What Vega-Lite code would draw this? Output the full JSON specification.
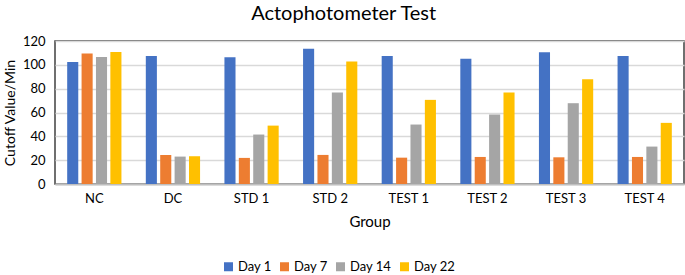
{
  "$schema": "https://vega.github.io/schema/vega-lite/v6.json",
  "autosize": "none",
  "width": 629,
  "height": 143,
  "padding": {"left": 55, "top": 41, "right": 1, "bottom": 91},
  "background": "white",
  "title": {"text": "Actophotometer Test", "frame": "bounds", "anchor": "middle", "fontSize": 20, "fontWeight": "normal", "font": "Lato", "color": "#000000", "offset": 11},
  "config": {
    "font": "Lato",
    "view": {"stroke": "#404040", "strokeWidth": 1.5},
    "axis": {"labelFont": "Lato", "titleFont": "Lato", "labelColor": "#000", "titleColor": "#000", "titleFontWeight": "normal"}
  },
  "data": {"values": [
    {"group": "NC", "day": "Day 1", "value": 102.3},
    {"group": "NC", "day": "Day 7", "value": 109.6},
    {"group": "NC", "day": "Day 14", "value": 106.5},
    {"group": "NC", "day": "Day 22", "value": 110.7},
    {"group": "DC", "day": "Day 1", "value": 107.4},
    {"group": "DC", "day": "Day 7", "value": 24.4},
    {"group": "DC", "day": "Day 14", "value": 23.0},
    {"group": "DC", "day": "Day 22", "value": 23.3},
    {"group": "STD 1", "day": "Day 1", "value": 106.3},
    {"group": "STD 1", "day": "Day 7", "value": 21.9},
    {"group": "STD 1", "day": "Day 14", "value": 41.5},
    {"group": "STD 1", "day": "Day 22", "value": 49.0},
    {"group": "STD 2", "day": "Day 1", "value": 113.5},
    {"group": "STD 2", "day": "Day 7", "value": 24.4},
    {"group": "STD 2", "day": "Day 14", "value": 76.8},
    {"group": "STD 2", "day": "Day 22", "value": 102.9},
    {"group": "TEST 1", "day": "Day 1", "value": 107.4},
    {"group": "TEST 1", "day": "Day 7", "value": 22.1},
    {"group": "TEST 1", "day": "Day 14", "value": 49.9},
    {"group": "TEST 1", "day": "Day 22", "value": 70.6},
    {"group": "TEST 2", "day": "Day 1", "value": 105.1},
    {"group": "TEST 2", "day": "Day 7", "value": 22.7},
    {"group": "TEST 2", "day": "Day 14", "value": 58.3},
    {"group": "TEST 2", "day": "Day 22", "value": 76.8},
    {"group": "TEST 3", "day": "Day 1", "value": 110.5},
    {"group": "TEST 3", "day": "Day 7", "value": 22.4},
    {"group": "TEST 3", "day": "Day 14", "value": 67.8},
    {"group": "TEST 3", "day": "Day 22", "value": 88.0},
    {"group": "TEST 4", "day": "Day 1", "value": 107.4},
    {"group": "TEST 4", "day": "Day 7", "value": 22.7},
    {"group": "TEST 4", "day": "Day 14", "value": 31.4},
    {"group": "TEST 4", "day": "Day 22", "value": 51.3}
  ]},
  "mark": {"type": "bar"},
  "encoding": {
    "x": {
      "field": "group", "type": "nominal", "sort": null,
      "scale": {"paddingInner": 0.31, "paddingOuter": 0.155},
      "axis": {"title": "Group", "labelAngle": 0, "labelFontSize": 13, "titleFontSize": 15, "ticks": false, "domainColor": "#BFBFBF", "domainWidth": 2, "labelPadding": 8, "titlePadding": 9}
    },
    "xOffset": {
      "field": "day", "type": "nominal", "sort": ["Day 1", "Day 7", "Day 14", "Day 22"],
      "scale": {"paddingInner": 0.23, "paddingOuter": 0}
    },
    "y": {
      "field": "value", "type": "quantitative",
      "scale": {"domain": [0, 120]},
      "axis": {"title": "Cutoff Value/Min", "values": [0, 20, 40, 60, 80, 100, 120], "labelFontSize": 13, "titleFontSize": 14, "ticks": false, "domain": false, "gridColor": "#D9D9D9", "gridWidth": 1.5, "labelPadding": 10, "titlePadding": 5}
    },
    "color": {
      "field": "day", "type": "nominal", "sort": ["Day 1", "Day 7", "Day 14", "Day 22"],
      "scale": {"domain": ["Day 1", "Day 7", "Day 14", "Day 22"], "range": ["#4472C4", "#ED7D31", "#A5A5A5", "#FFC000"]},
      "legend": {"title": null, "orient": "none", "legendX": 167, "legendY": 219, "direction": "horizontal", "symbolType": "square", "symbolSize": 81, "symbolStrokeWidth": 0, "labelFontSize": 13, "labelColor": "#000", "columnPadding": 6, "labelOffset": 3}
    }
  }
}
